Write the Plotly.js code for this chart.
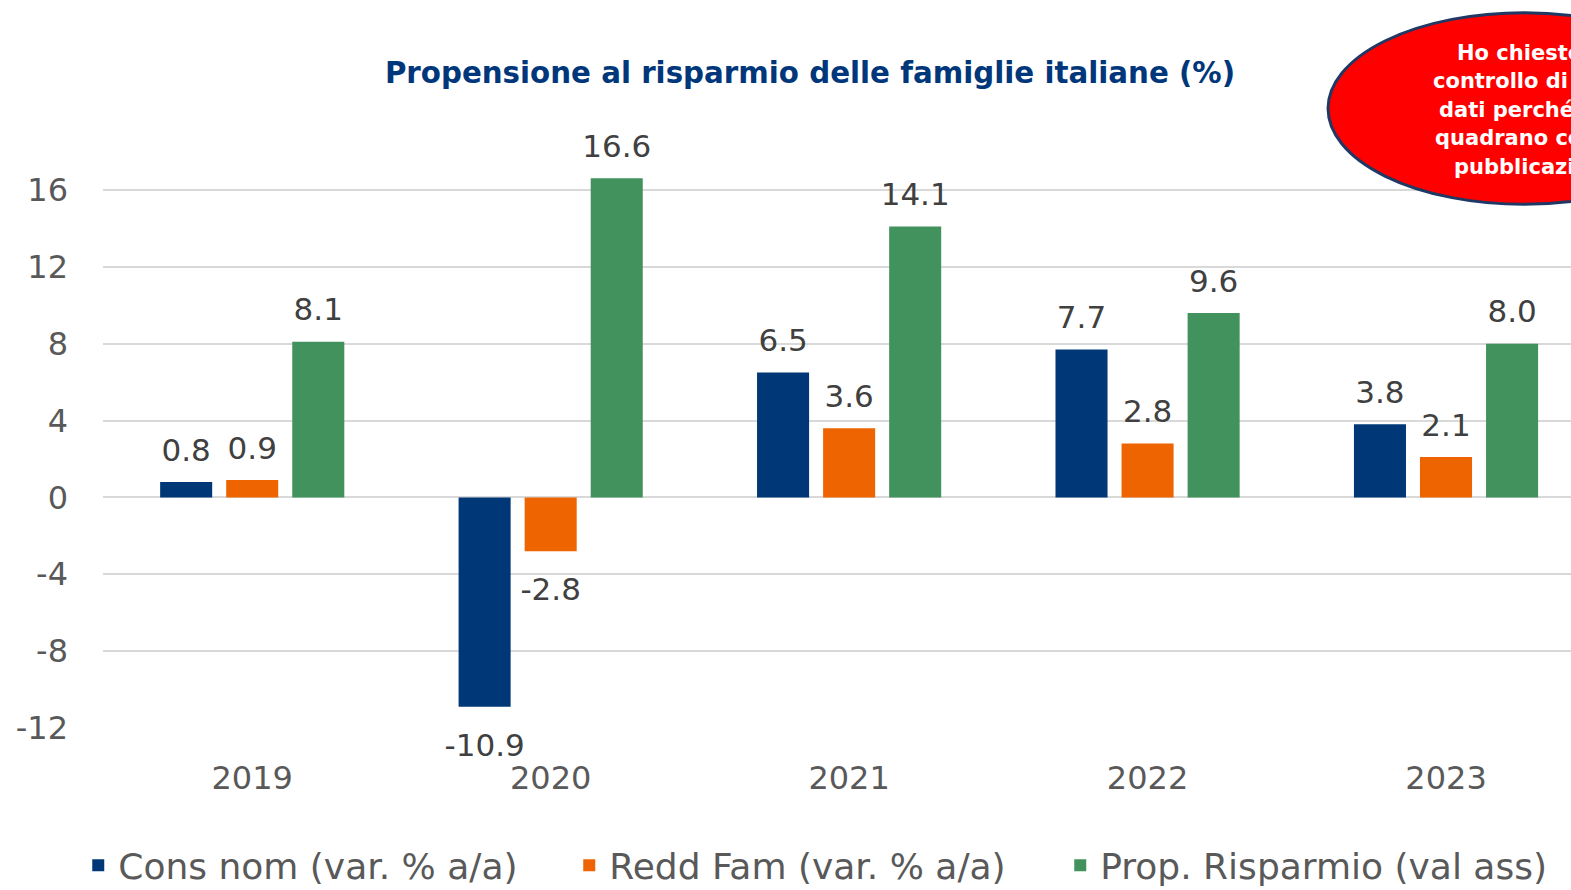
<!DOCTYPE html>
<html>
<head>
<meta charset="utf-8">
<script src="https://cdn.plot.ly/plotly-3.0.1.min.js"></script>
<style>
  html, body { margin: 0; padding: 0; background: #fff; overflow: hidden; }
  #chart { width: 1571px; height: 890px; }
</style>
</head>
<body>
<div id="chart"></div>
<script>
const categories = ['2019', '2020', '2021', '2022', '2023'];
const seriesNames = ['Cons nom (var. % a/a)', 'Redd Fam (var. % a/a)', 'Prop. Risparmio (val ass)'];
const consNom = [0.8, -10.9, 6.5, 7.7, 3.8];
const reddFam = [0.9, -2.8, 3.6, 2.8, 2.1];
const propRisparmio = [8.1, 16.6, 14.1, 9.6, 8.0];
const yTicks = [-12, -8, -4, 0, 4, 8, 12, 16];
const noteLines = ['Ho chiesto un', 'controllo di questi', 'dati perché non', 'quadrano con la', 'pubblicazione'];

const colors = ['#003877', '#ED6400', '#42925D'];
const gray = '#595959';
const font = 'DejaVu Sans, sans-serif';
const BARGAP = 0.336;

// plot area in pixels
const W = 1571, H = 890;
const mL = 102.75, mR = 0, mT = 112.5, mB = 161.5;
const plotW = W - mL - mR, plotH = H - mT - mB;
const catStep = 298.5;
const px = x => (x - mL) / plotW;
const py = y => (H - mB - y) / plotH;

const allSeries = [consNom, reddFam, propRisparmio];

const bars = allSeries.map(function (vals, i) {
    return {
        type: 'bar',
        name: seriesNames[i],
        x: categories,
        y: vals,
        marker: { color: colors[i] },
        hoverinfo: 'x+y'
    };
});

// value labels: invisible markers give the extra gap Excel leaves above/below the bars
const labels = allSeries.map(function (vals, i) {
    return {
        type: 'scatter',
        mode: 'markers+text',
        x: categories,
        y: vals,
        showlegend: false,
        cliponaxis: false,
        marker: { size: vals.map(v => v < 0 ? 40 : 20), opacity: 0 },
        text: vals.map(v => v.toFixed(1)),
        textposition: vals.map(v => v < 0 ? 'bottom center' : 'top center'),
        textfont: { family: font, size: 31, color: '#404040' },
        hoverinfo: 'skip'
    };
});

const noteStarts = [1455, 1431, 1437, 1433, 1452];
const noteCenters = [52, 80, 109, 138, 167];
const annotations = noteLines.map(function (line, i) {
    return {
        xref: 'paper', yref: 'paper',
        x: px(noteStarts[i]), y: py(noteCenters[i]),
        xanchor: 'left', yanchor: 'middle',
        text: line, showarrow: false,
        font: { family: font, size: 21, color: '#ffffff', weight: 'bold' }
    };
});

const layout = {
    width: W, height: H,
    margin: { l: mL, r: mR, t: mT, b: mB, pad: 0, autoexpand: false },
    paper_bgcolor: '#ffffff',
    plot_bgcolor: '#ffffff',
    barmode: 'group',
    bargap: BARGAP,
    bargroupgap: 0.212,
    scattermode: 'group',
    scattergap: BARGAP,
    showlegend: true,
    title: {
        text: '<b>Propensione al risparmio delle famiglie italiane (%)</b>',
        font: { family: font, size: 29.3, color: '#00367A' },
        xref: 'container', yref: 'container',
        x: 810 / W, y: 1 - 73 / H, xanchor: 'center', yanchor: 'middle'
    },
    xaxis: {
        type: 'category',
        range: [-0.5, -0.5 + plotW / catStep],
        showgrid: false, showline: false, zeroline: false,
        ticks: '', ticklabelstandoff: 28,
        tickfont: { family: font, size: 32, color: gray }
    },
    yaxis: {
        range: [-12, 20],
        tickvals: yTicks,
        ticktext: yTicks.map(String),
        showgrid: true, gridcolor: '#d9d9d9', gridwidth: 2,
        zeroline: true, zerolinecolor: '#d9d9d9', zerolinewidth: 2,
        showline: false, ticks: '', ticklabelstandoff: 34,
        tickfont: { family: font, size: 32, color: gray }
    },
    legend: {
        orientation: 'h',
        x: px(78), y: py(866),
        xanchor: 'left', yanchor: 'middle',
        entrywidth: 446, entrywidthmode: 'pixels',
        font: { family: font, size: 36, color: gray },
        itemwidth: 30
    },
    shapes: [{
        type: 'circle', xref: 'paper', yref: 'paper',
        x0: px(1328), x1: px(1720), y0: py(204), y1: py(12),
        fillcolor: '#FF0000', line: { color: '#1F3864', width: 3 },
        layer: 'above'
    }],
    annotations: annotations
};

Plotly.newPlot('chart', bars.concat(labels), layout, { displayModeBar: false, staticPlot: true });
</script>
</body>
</html>
